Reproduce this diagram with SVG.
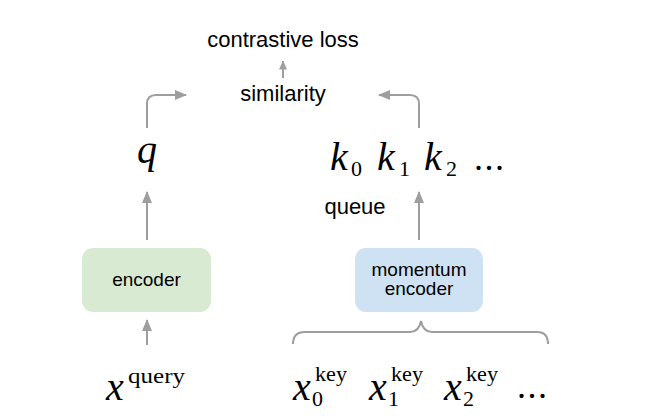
<svg xmlns="http://www.w3.org/2000/svg" width="670" height="416" viewBox="0 0 670 416">
<style>
.lbl{font-family:"Liberation Sans",Arial,sans-serif;fill:#000;text-anchor:middle}
.big{font-size:22px}
.box{font-size:19px}
.mi{font-family:"Liberation Serif","Times New Roman",serif;font-style:italic;font-size:40px;fill:#000}
.mr{font-family:"Liberation Serif","Times New Roman",serif;font-size:22px;fill:#000}
.dots{font-family:"Liberation Serif","Times New Roman",serif;font-size:36px;letter-spacing:1.5px;fill:#000}
.con{fill:none;stroke:#9e9e9e;stroke-width:2}
</style>
<defs>
<marker id="ah" viewBox="0 0 12 10" refX="11" refY="5" markerWidth="12" markerHeight="10" markerUnits="userSpaceOnUse" orient="auto">
<path d="M0,0 L12,5 L0,10 Z" fill="#9e9e9e"/>
</marker>
<marker id="ahs" viewBox="0 0 9 8" refX="8.5" refY="4" markerWidth="9" markerHeight="8" markerUnits="userSpaceOnUse" orient="auto">
<path d="M0,0 L9,4 L0,8 Z" fill="#9e9e9e"/>
</marker>
</defs>
<g id="connectors">
<path class="con" d="M147,128 L147,104 Q147,95 156,95 L186,95" marker-end="url(#ah)"/>
<path class="con" d="M419,128 L419,104 Q419,95 410,95 L379,95" marker-end="url(#ah)"/>
<path class="con" d="M283,78 L283,61" marker-end="url(#ahs)"/>
<path class="con" d="M147,240 L147,192" marker-end="url(#ah)"/>
<path class="con" d="M419,240 L419,192" marker-end="url(#ah)"/>
<path class="con" d="M147,345 L147,320" marker-end="url(#ah)"/>
<path class="con" stroke-width="1.6" d="M293,344 Q293,332 305,332 L410,332 Q419,332 421,321 Q423,332 432,332 L537,332 Q548,332 548,344"/>
</g>
<g id="contrastive-loss"><text class="lbl big" x="283" y="47">contrastive loss</text></g>
<g id="similarity"><text class="lbl big" x="283" y="101">similarity</text></g>
<g id="queue-label"><text class="lbl big" x="355" y="214">queue</text></g>
<g id="encoder">
<rect x="82" y="248" width="129" height="64" rx="11" fill="#d9ead3"/>
<text class="lbl box" x="146.5" y="286">encoder</text>
</g>
<g id="momentum-encoder">
<rect x="355" y="248" width="128" height="64" rx="11" fill="#cfe2f3"/>
<text class="lbl box" x="419" y="276">momentum</text>
<text class="lbl box" x="419" y="295">encoder</text>
</g>
<g id="q"><text class="mi" x="137" y="163">q</text></g>
<g id="keys">
<text class="mi" x="330" y="170">k</text><text class="mr" x="351" y="176">0</text>
<text class="mi" x="377" y="170">k</text><text class="mr" x="399" y="176">1</text>
<text class="mi" x="424" y="170">k</text><text class="mr" x="446" y="176">2</text>
<text class="dots" x="474" y="170">...</text>
</g>
<g id="x-query">
<text class="mi" x="106" y="400" font-size="42">x</text>
<text class="mr" x="128" y="383" font-size="24" textLength="57" lengthAdjust="spacingAndGlyphs">query</text>
</g>
<g id="x-keys">
<text class="mi" x="293" y="400" font-size="42">x</text>
<text class="mr" x="315" y="381" textLength="32" lengthAdjust="spacingAndGlyphs">key</text>
<text class="mr" x="312" y="406">0</text>
<text class="mi" x="369" y="400" font-size="42">x</text>
<text class="mr" x="391" y="381" textLength="32" lengthAdjust="spacingAndGlyphs">key</text>
<text class="mr" x="388" y="406">1</text>
<text class="mi" x="444" y="400" font-size="42">x</text>
<text class="mr" x="466" y="381" textLength="32" lengthAdjust="spacingAndGlyphs">key</text>
<text class="mr" x="463" y="406">2</text>
<text class="dots" x="517" y="398">...</text>
</g>
</svg>
